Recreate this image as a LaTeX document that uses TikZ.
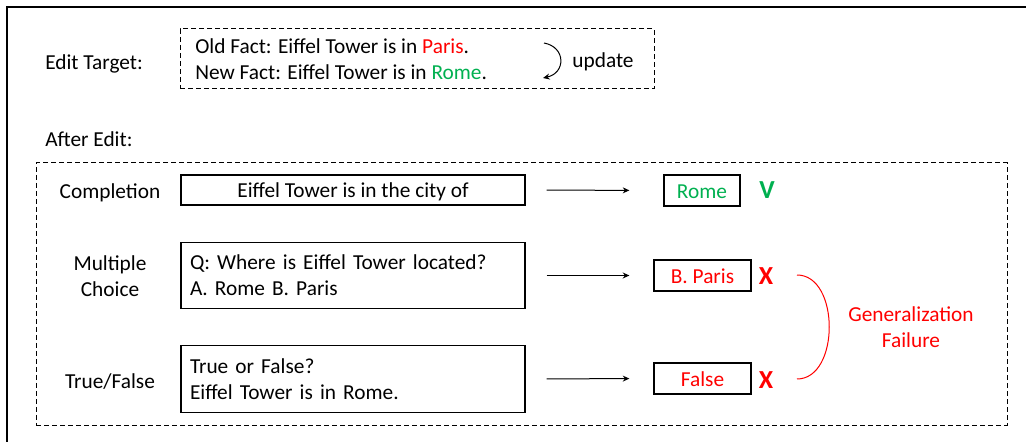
\documentclass[tikz,border=0pt]{standalone}
\usepackage{fontspec}
\setmainfont{Carlito}
\usetikzlibrary{arrows.meta}
\definecolor{okgreen}{HTML}{00B050}
\definecolor{badred}{HTML}{FF0000}
\tikzset{
  lbl/.style={font=\fontsize{16}{19.5}\selectfont, inner sep=0pt, align=center},
  dbox/.style={draw, line width=0.75pt, dash pattern=on 3.5pt off 2.5pt, inner sep=0pt},
  sbox/.style={draw, line width=0.9pt, font=\fontsize{16}{19.5}\selectfont, inner sep=0pt,
    text height=12pt, text depth=0pt},
  qbox/.style={draw, line width=0.9pt, font=\fontsize{16}{19.5}\selectfont, inner xsep=6.75pt, inner ysep=0pt,
    text width=244.5pt, align=left, minimum height=50pt},
  res/.style={sbox, minimum height=23.25pt},
  chkmark/.style={font=\fontsize{19.5}{21}\selectfont\bfseries, inner sep=0pt},
  conn/.style={-{Stealth[length=5pt,width=4.5pt]}, line width=0.75pt},
}
\begin{document}
\begin{tikzpicture}[x=0.75pt,y=-0.75pt]
\useasboundingbox (0,0) rectangle (1026,442);
% outer frame
\draw[line width=1pt] (7,442) -- (7,7) -- (1026,7);

% edit target
\node[lbl, anchor=west] (et) at (45,63.5) {Edit Target:};
\node[dbox, minimum width=355.5pt, minimum height=45pt] (editbox) at (417,59) {};
\node[lbl, anchor=west, align=left] (facts) at (195,59.5) {Old Fact: Eiffel Tower is in \textcolor{badred}{Paris}.\\New Fact: Eiffel Tower is in \textcolor{okgreen}{Rome}.};
\coordinate (ua) at (544,43);
\coordinate (ub) at (543,78);
\draw[-{Stealth[length=5pt,width=4.5pt]}, line width=0.75pt] (ua) .. controls (566,47) and (566,73) .. (ub);
\node[lbl] (upd) at (603,61.5) {update};

% after edit
\node[lbl, anchor=west] (ae) at (45,139.5) {After Edit:};
\node[dbox, minimum width=728.25pt, minimum height=196.5pt] (bigbox) at (521.5,294) {};

% rows
\node[lbl] (l1) at (110,193) {Completion};
\node[lbl] (l2) at (110,276.5) {Multiple\\Choice};
\node[lbl] (l3) at (110,381.5) {True/False};

\node[sbox, minimum width=258pt, minimum height=22.5pt] (b1) at (353,190) {Eiffel Tower is in the city of};
\node[qbox] (b2) at (353,275.5) {Q: Where is Eiffel Tower located?\\A. Rome B. Paris};
\node[qbox] (b3) at (353,379) {True or False?\\Eiffel Tower is in Rome.};

\node[res, minimum width=57pt, text=okgreen] (r1) at (702,190.5) {Rome};
\node[res, minimum width=72.75pt, text=badred] (r2) at (702.5,275.5) {B. Paris};
\node[res, minimum width=72.75pt, text=badred] (r3) at (702.5,378.5) {False};

\draw[conn, shorten <=15.75pt, shorten >=25.5pt] (b1.east) -- (r1.west);
\draw[conn, shorten <=15.75pt, shorten >=18pt] (b2.east) -- (r2.west);
\draw[conn, shorten <=15.75pt, shorten >=18pt] (b3.east) -- (r3.west);

\node[chkmark, text=okgreen] (m1) at (767,190) {V};
\node[chkmark, text=badred] (m2) at (766,276) {X};
\node[chkmark, text=badred] (m3) at (766,380) {X};

\coordinate (g1) at (797,275);
\coordinate (g2) at (797,379);
\draw[badred, line width=0.75pt] (g1) .. controls (840,275) and (840,379) .. (g2);
\node[lbl, text=badred] (gf) at (911,327) {Generalization\\Failure};
\end{tikzpicture}
\end{document}
